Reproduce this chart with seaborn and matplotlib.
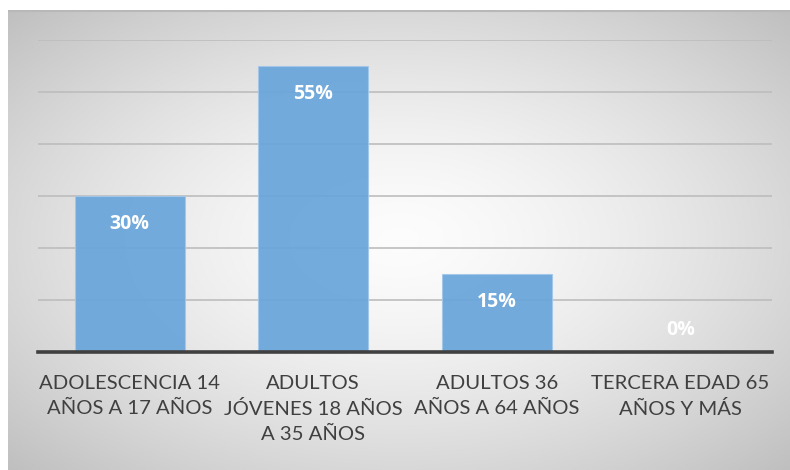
import numpy as np
import pandas as pd
import matplotlib
matplotlib.use("Agg")
import matplotlib.pyplot as plt
import seaborn as sns

categories = ["ADOLESCENCIA 14\nAÑOS A 17 AÑOS",
              "ADULTOS\nJÓVENES 18 AÑOS\nA 35 AÑOS",
              "ADULTOS 36\nAÑOS A 64 AÑOS",
              "TERCERA EDAD 65\nAÑOS Y MÁS"]
values = [30, 55, 15, 0]
value_labels = ["30%", "55%", "15%", "0%"]

sns.set_style("white")
plt.rcParams['font.family'] = ['Lato', 'DejaVu Sans']

W, H = 790, 470
fig = plt.figure(figsize=(W / 100, H / 100), dpi=100)
fig.patch.set_facecolor("white")

# gradient background panel
x0, y0, x1, y1 = 8, 0, 790, 460  # pixel coords from bottom-left
bg = fig.add_axes([x0 / W, y0 / H, (x1 - x0) / W, (y1 - y0) / H], zorder=-5)
ny, nx = 200, 340
yy, xx = np.mgrid[-1:1:ny * 1j, -1:1:nx * 1j]
r = np.sqrt(xx ** 2 + yy ** 2) / np.sqrt(2)
shade = 0.99 - 0.24 * np.clip(r, 0, 1) ** 1.5
bg.imshow(np.dstack([shade] * 3), aspect="auto", extent=[0, 1, 0, 1], interpolation="bilinear")
bg.set_xlim(0, 1); bg.set_ylim(0, 1)
bg.plot([0, 1], [0.997, 0.997], color="#b8b8b8", lw=1.5)
bg.axis("off")

ax = fig.add_axes([38 / W, 118 / H, 734 / W, 312 / H])
ax.patch.set_alpha(0)

df = pd.DataFrame({"cat": categories, "val": values})
sns.barplot(data=df, x="cat", y="val", ax=ax, color="#6BA6DB", alpha=0.94,
            saturation=1, width=0.6, edgecolor="#a3c7ea", linewidth=0.8, zorder=3)

ax.set_ylim(0, 60)
ax.set_xlim(-0.5, len(categories) - 0.5)
ax.set_yticks(np.arange(0, 61, 10))
ax.yaxis.grid(True, color="#bdbdbd", lw=1.2, zorder=0)
ax.set_axisbelow(True)
ax.tick_params(axis="y", left=False, labelleft=False)
ax.tick_params(axis="x", bottom=False, pad=13, labelsize=14.6, labelcolor="#404040")
for lab in ax.get_xticklabels():
    lab.set_linespacing(1.55)
    lab.set_verticalalignment("top")
for s in ["top", "right", "left"]:
    ax.spines[s].set_visible(False)
ax.spines["bottom"].set_color("#404040")
ax.spines["bottom"].set_linewidth(2.6)
ax.spines["bottom"].set_zorder(5)
ax.set_xlabel(""); ax.set_ylabel("")

for i, (v, t) in enumerate(zip(values, value_labels)):
    off = -20 if v > 0 else 16
    ax.annotate(t, xy=(i, v), xytext=(0, off), textcoords="offset points",
                ha="center", va="center", color="white", fontsize=14,
                fontweight="bold", family=["Open Sans", "DejaVu Sans"], zorder=6)

fig.savefig("out.png", dpi=100)
